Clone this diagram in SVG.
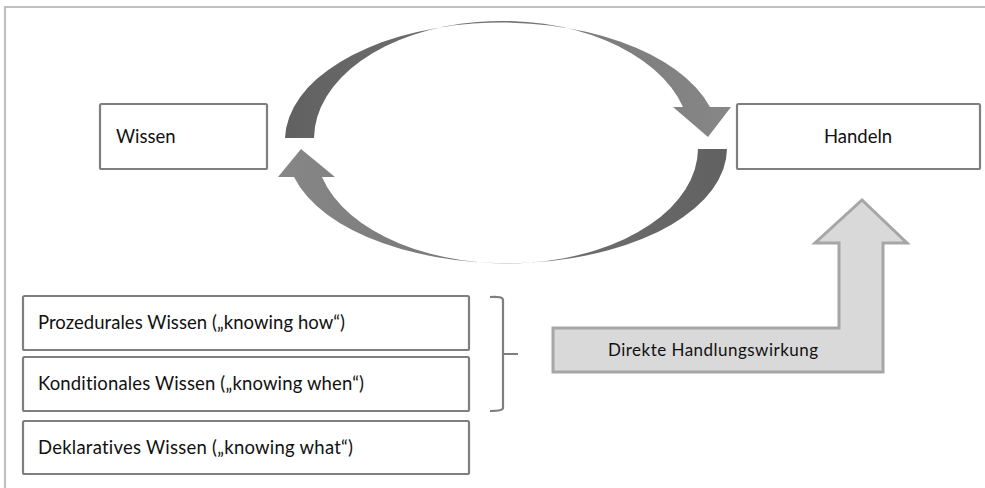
<svg xmlns="http://www.w3.org/2000/svg" width="985" height="488" viewBox="0 0 985 488">
<defs>
<linearGradient id="gUp" x1="0" y1="0" x2="1" y2="0">
<stop offset="0" stop-color="#616161"/>
<stop offset="1" stop-color="#878787"/>
</linearGradient>
<linearGradient id="gLow" x1="0" y1="0" x2="1" y2="0">
<stop offset="0" stop-color="#878787"/>
<stop offset="1" stop-color="#616161"/>
</linearGradient>
<style>
.box{fill:#ffffff;stroke:#7f7f7f;stroke-width:2.2}
.t{font-family:Lato,"Liberation Sans",sans-serif;font-size:18.5px;fill:#111111;font-variant-ligatures:none;font-feature-settings:"liga" 0,"clig" 0}
.frame{fill:none;stroke:#c0c0c0;stroke-width:2.2}
</style>
</defs>
<rect width="985" height="488" fill="#ffffff"/>
<path class="frame" d="M5,488 L5,7 L985,7"/>

<g id="connectors">
<path id="arc-top" fill="url(#gUp)" d="M285,138 A217,118 0 0 1 710,107 L731,107 L708,137 L673,107 L683,107 A188,118 0 0 0 314,138 Z"/>
<path id="arc-bottom" fill="url(#gLow)" d="M727,149 A220,115 0 0 1 294,177 L278,177 L301,149 L335,177 L322,177 A191,115 0 0 0 698,149 Z"/>
<path id="bracket" d="M490,297 Q503,296 503,300 L503,408 Q503,411 490,411 M503,354 L518,354" fill="none" stroke="#7f7f7f" stroke-width="2.2"/>
</g>

<g id="node-wissen">
<rect class="box" x="100" y="104" width="167" height="65" rx="1.5"/>
<text class="t" x="116" y="143">Wissen</text>
</g>
<g id="node-handeln">
<rect class="box" x="737" y="104" width="243" height="65" rx="1.5"/>
<text class="t" x="858" y="143" text-anchor="middle">Handeln</text>
</g>
<g id="node-prozedural">
<rect class="box" x="23" y="296" width="446" height="54" rx="1.5"/>
<text class="t" x="38" y="329" textLength="307">Prozedurales Wissen („knowing how“)</text>
</g>
<g id="node-konditional">
<rect class="box" x="23" y="357" width="446" height="54" rx="1.5"/>
<text class="t" x="38" y="390" textLength="326">Konditionales Wissen („knowing when“)</text>
</g>
<g id="node-deklarativ">
<rect class="box" x="23" y="421" width="446" height="53" rx="1.5"/>
<text class="t" x="38" y="454" textLength="315">Deklaratives Wissen („knowing what“)</text>
</g>
<g id="node-direkte">
<path d="M553,328 L839,328 L839,243 L815,243 L862,200 L907,243 L883,243 L883,372 L553,372 Z" fill="#d9d9d9" stroke="#a6a6a6" stroke-width="3" stroke-linejoin="miter"/>
<text class="t" x="713" y="356" text-anchor="middle" style="font-size:17px" textLength="210">Direkte Handlungswirkung</text>
</g>
</svg>
